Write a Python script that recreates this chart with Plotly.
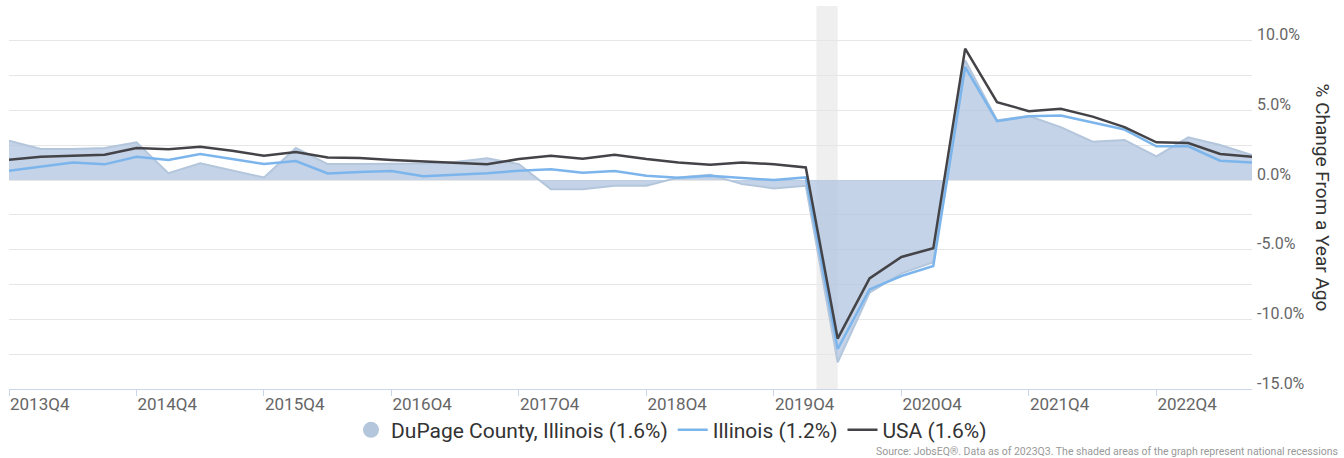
import plotly.graph_objects as go

quarters = []
for y in range(2013, 2024):
    for q in range(1, 5):
        quarters.append(f"{y}Q{q}")
quarters = quarters[quarters.index("2013Q4"):quarters.index("2023Q3") + 1]

dupage = [2.83, 2.23, 2.23, 2.30, 2.72, 0.50, 1.20, 0.67, 0.19, 2.30,
          1.15, 1.15, 1.15, 1.20, 1.30, 1.56, 1.15, -0.65, -0.65, -0.41,
          -0.41, 0.19, 0.38, -0.29, -0.60, -0.41, -13.09, -8.09, -6.70, -5.90,
          8.60, 4.30, 4.60, 3.80, 2.76, 2.88, 1.70, 3.07, 2.52, 1.80]
illinois = [0.67, 0.96, 1.27, 1.13, 1.68, 1.44, 1.87, 1.51, 1.15, 1.37,
            0.48, 0.58, 0.65, 0.28, 0.38, 0.50, 0.67, 0.77, 0.53, 0.65,
            0.31, 0.17, 0.31, 0.14, 0.00, 0.19, -12.13, -7.85, -6.89, -6.17,
            8.12, 4.23, 4.59, 4.63, 4.11, 3.63, 2.43, 2.43, 1.39, 1.27]
usa = [1.46, 1.68, 1.75, 1.82, 2.30, 2.21, 2.40, 2.11, 1.75, 2.02,
       1.63, 1.58, 1.44, 1.35, 1.22, 1.13, 1.51, 1.75, 1.54, 1.82,
       1.51, 1.27, 1.10, 1.27, 1.13, 0.91, -11.38, -7.06, -5.52, -4.90,
       9.44, 5.60, 4.95, 5.12, 4.56, 3.80, 2.71, 2.66, 1.87, 1.68]

legend_names = ["DuPage County, Illinois (1.6%)", "Illinois (1.2%)", "USA (1.6%)"]
x_tick_labels = ["2013Q4", "2014Q4", "2015Q4", "2016Q4", "2017Q4",
                 "2018Q4", "2019Q4", "2020Q4", "2021Q4", "2022Q4"]
y_tick_vals = [-15, -10, -5, 0, 5, 10]
y_tick_text = ["-15.0%", "-10.0%", "-5.0%", "0.0%", "5.0%", "10.0%"]
recessions = [((2020, 2), (2020, 4))]  # (year, month) start/end

x = list(range(len(quarters)))
x_tick_vals = [quarters.index(t) for t in x_tick_labels]


def month_pos(ym):
    yr, mo = ym
    return (yr - 2013) * 4 + (mo - 1) / 3 - 3


fig = go.Figure()
fig.add_trace(go.Scatter(
    x=x, y=dupage, mode="lines", fill="tozeroy",
    line=dict(color="#b3c6dc", width=2),
    fillcolor="rgba(176,196,222,0.74)",
    showlegend=False, hoverinfo="skip"))
fig.add_trace(go.Scatter(
    x=[None], y=[None], mode="markers", name=legend_names[0],
    marker=dict(color="#b3c6dc", size=19, symbol="circle")))
fig.add_trace(go.Scatter(
    x=x, y=illinois, mode="lines", name=legend_names[1],
    line=dict(color="#7cb5ec", width=2.5)))
fig.add_trace(go.Scatter(
    x=x, y=usa, mode="lines", name=legend_names[2],
    line=dict(color="#434348", width=2.5)))

for s, e in recessions:
    fig.add_shape(type="rect", xref="x", yref="paper",
                  x0=month_pos(s), x1=month_pos(e), y0=0, y1=1,
                  fillcolor="#efefef", line=dict(width=0), layer="between")

fig.update_layout(
    width=1344, height=458,
    margin=dict(l=9, r=92, t=6, b=69, autoexpand=False),
    paper_bgcolor="white", plot_bgcolor="white",
    font=dict(family="Roboto", color="#333333"),
    legend=dict(orientation="h", x=0.533, xanchor="center", y=-0.054, yanchor="top",
                font=dict(size=21, color="#333333"), itemwidth=30,
                traceorder="normal"),
    xaxis=dict(range=[0, len(quarters) - 1], tickvals=x_tick_vals, ticktext=x_tick_labels,
               showgrid=False, zeroline=False, showline=True, linecolor="#ccd6eb",
               ticks="outside", ticklen=6, tickcolor="#ccd6eb",
               ticklabelposition="outside right", automargin=False,
               tickfont=dict(size=17, color="#666666")),
    yaxis=dict(range=[-15, 12.5], side="right", tickvals=y_tick_vals, ticktext=y_tick_text,
               showgrid=True, gridcolor="#e6e6e6", zeroline=False, automargin=False,
               minor=dict(tickvals=[-12.5, -7.5, -2.5, 2.5, 7.5, 12.5],
                          showgrid=True, gridcolor="#e6e6e6"),
               ticklabelshift=-6, ticklabelstandoff=4,
               tickfont=dict(size=16, color="#666666")),
)

fig.add_annotation(x=1.0, xref="paper", xshift=70, xanchor="center", y=0.5, yref="paper",
                   text="% Change From a Year Ago", textangle=90, showarrow=False,
                   font=dict(size=19, color="#333333"))
fig.add_annotation(x=1.0, xref="paper", xshift=88, xanchor="right", y=-0.164, yref="paper",
                   yanchor="middle",
                   text="Source: JobsEQ®. Data as of 2023Q3. The shaded areas of the graph represent national recessions",
                   showarrow=False, font=dict(size=10.5, color="#999999"))

fig.write_html("out.html", config={"displayModeBar": False},
               post_script="document.body.style.margin='0';")
